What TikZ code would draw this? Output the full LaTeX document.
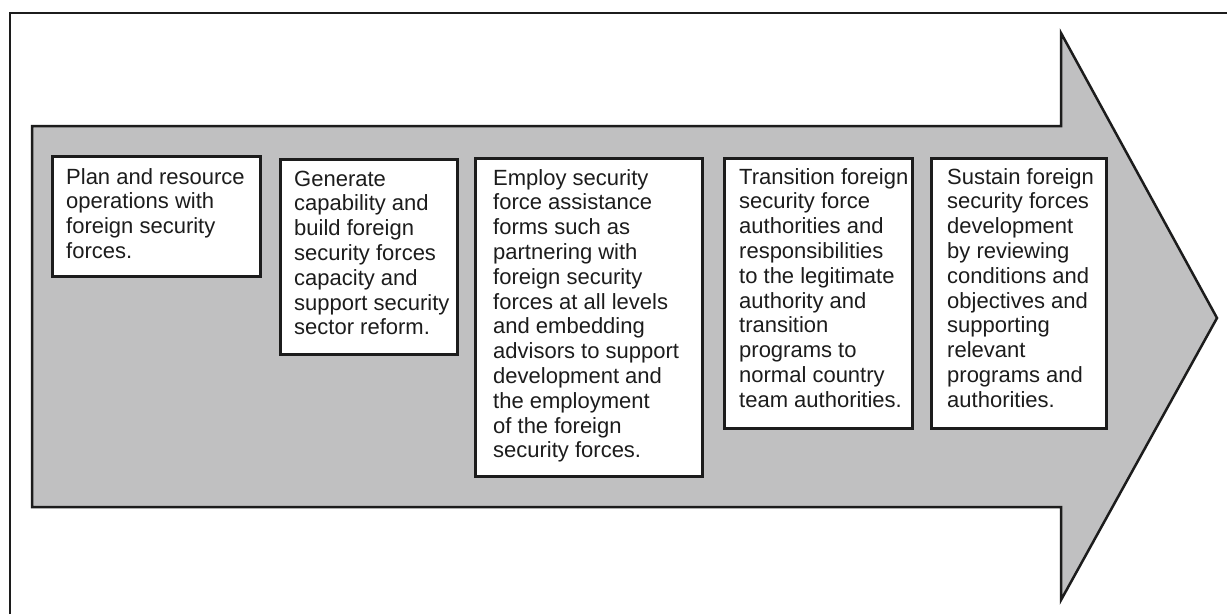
\documentclass[tikz,border=0pt]{standalone}
\usepackage{fontspec}
\setmainfont{Liberation Sans}
\definecolor{arrowgray}{RGB}{192,192,193}
\definecolor{ink}{RGB}{28,28,28}
\begin{document}
\begin{tikzpicture}[x=1pt,y=-1pt,
  stepbox/.style={draw=ink, line width=3pt, fill=white, anchor=north west, inner sep=0pt},
  txt/.style={anchor=base west, inner sep=0pt, text=ink, font=\fontsize{22pt}{24.8pt}\selectfont},
  frameline/.style={draw=ink, line width=2.5pt},
  arrowshape/.style={draw=ink, fill=arrowgray, line width=2.5pt, line join=miter}]
\useasboundingbox (0,0) rectangle (1227,614);
\fill[white] (0,0) rectangle (1227,614);
% outer frame
\draw[frameline] (10,614) -- (10,13) -- (1227,13);
% big arrow
\draw[arrowshape] (32,126) -- (1061,126) -- (1061,33) -- (1217,318) -- (1061,600) -- (1061,507) -- (32,507) -- cycle;
% boxes
\node[stepbox, minimum width=208pt, minimum height=120pt] (b1) at (51,155) {};
\node[stepbox, minimum width=177pt, minimum height=195pt] (b2) at (279,158) {};
\node[stepbox, minimum width=227pt, minimum height=318pt] (b3) at (474,157) {};
\node[stepbox, minimum width=188pt, minimum height=270pt] (b4) at (723,157) {};
\node[stepbox, minimum width=175pt, minimum height=270pt] (b5) at (930,157) {};
% texts
\node[txt] (t1) at (66,184) {\parbox[t]{200pt}{\raggedright Plan and resource\\ operations with\\ foreign security\\ forces.}};
\node[txt] (t2) at (294,186) {\parbox[t]{200pt}{\raggedright Generate\\ capability and\\ build foreign\\ security forces\\ capacity and\\ support security\\ sector reform.}};
\node[txt] (t3) at (493,185) {\parbox[t]{220pt}{\raggedright Employ security\\ force assistance\\ forms such as\\ partnering with\\ foreign security\\ forces at all levels\\ and embedding\\ advisors to support\\ development and\\ the employment\\ of the foreign\\ security forces.}};
\node[txt] (t4) at (739,184) {\parbox[t]{200pt}{\raggedright Transition foreign\\ security force\\ authorities and\\ responsibilities\\ to the legitimate\\ authority and\\ transition\\ programs to\\ normal country\\ team authorities.}};
\node[txt] (t5) at (947,184) {\parbox[t]{200pt}{\raggedright Sustain foreign\\ security forces\\ development\\ by reviewing\\ conditions and\\ objectives and\\ supporting\\ relevant\\ programs and\\ authorities.}};
\end{tikzpicture}
\end{document}
